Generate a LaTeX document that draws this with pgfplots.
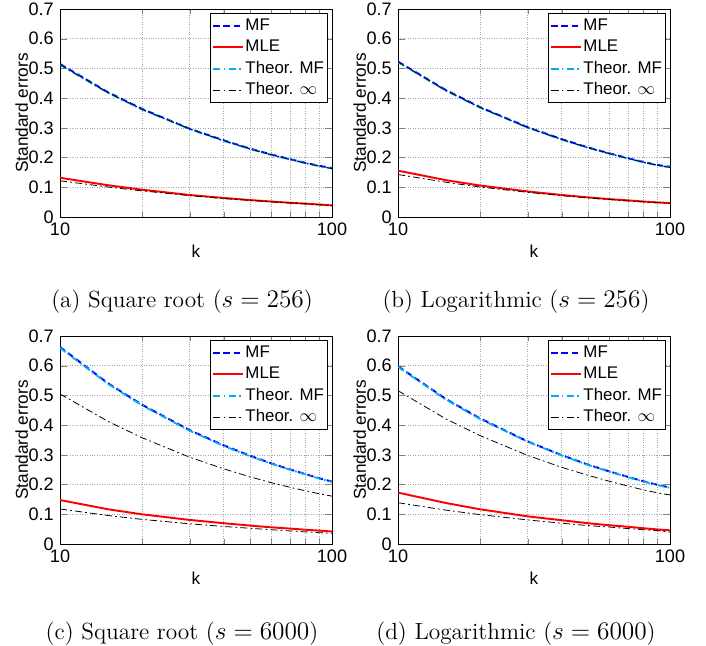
\documentclass[border=0pt]{standalone}
\usepackage{fontspec}
\setsansfont{Liberation Sans}
\usepackage{pgfplots}
\usepackage{pgfplotstable}
\pgfplotsset{compat=1.18}

% k, MF, MLE, Theor. MF, Theor. inf (MF), Theor. inf (MLE)
\pgfplotstableread{
k mf mle tmf tia tib
10 0.515 0.132 0.512 0.513 0.122
15 0.420 0.107 0.418 0.419 0.101
20 0.364 0.092 0.362 0.363 0.088
30 0.297 0.074 0.296 0.296 0.072
40 0.258 0.064 0.256 0.257 0.062
50 0.230 0.057 0.229 0.229 0.056
60 0.210 0.052 0.209 0.209 0.051
70 0.195 0.048 0.194 0.194 0.047
80 0.182 0.045 0.181 0.181 0.044
90 0.172 0.042 0.171 0.171 0.041
100 0.165 0.039 0.163 0.163 0.039
}\tabA
\pgfplotstableread{
k mf mle tmf tia tib
10 0.523 0.156 0.521 0.522 0.143
15 0.427 0.124 0.425 0.426 0.117
20 0.370 0.106 0.368 0.369 0.101
30 0.302 0.086 0.301 0.301 0.083
40 0.262 0.074 0.260 0.261 0.072
50 0.234 0.066 0.233 0.233 0.064
60 0.214 0.060 0.213 0.213 0.059
70 0.198 0.056 0.197 0.197 0.054
80 0.185 0.052 0.184 0.184 0.051
90 0.175 0.049 0.174 0.174 0.048
100 0.169 0.047 0.167 0.167 0.046
}\tabB
\pgfplotstableread{
k mf mle tmf tia tib
10 0.663 0.148 0.660 0.505 0.118
15 0.541 0.117 0.539 0.413 0.096
20 0.469 0.100 0.467 0.358 0.083
30 0.383 0.081 0.381 0.292 0.068
40 0.332 0.070 0.330 0.253 0.059
50 0.297 0.062 0.295 0.226 0.053
60 0.271 0.056 0.270 0.206 0.048
70 0.251 0.052 0.250 0.191 0.044
80 0.235 0.048 0.234 0.179 0.041
90 0.221 0.045 0.220 0.169 0.038
100 0.210 0.042 0.209 0.161 0.036
}\tabC
\pgfplotstableread{
k mf mle tmf tia tib
10 0.598 0.173 0.596 0.516 0.139
15 0.488 0.138 0.486 0.421 0.114
20 0.423 0.117 0.421 0.365 0.099
30 0.345 0.093 0.344 0.298 0.081
40 0.299 0.080 0.298 0.258 0.070
50 0.267 0.070 0.266 0.231 0.062
60 0.244 0.063 0.243 0.211 0.057
70 0.226 0.058 0.225 0.195 0.052
80 0.211 0.053 0.210 0.182 0.048
90 0.199 0.049 0.198 0.172 0.045
100 0.190 0.046 0.189 0.165 0.040
}\tabD

% shared look of the four panels (xmode is set per axis)
\pgfplotsset{
  every axis/.append style={
    scale only axis, width=5.44cm, height=4.16cm,
    xmin=10, xmax=100, ymin=0, ymax=0.7,
    xtick={10,100}, xticklabels={10,100},
    ytick={0,0.1,0.2,0.3,0.4,0.5,0.6,0.7},
    yticklabel style={/pgf/number format/fixed, /pgf/number format/precision=1,
      /pgf/number format/assume math mode=true},
    tick align=inside,
    xmajorgrids, xminorgrids, ymajorgrids,
    grid style={densely dotted, gray!70, line width=0.4pt},
    minor grid style={densely dotted, gray!70, line width=0.4pt},
    ticklabel style={font=\fontsize{10.3}{12}\selectfont\sffamily},
    xlabel style={font=\fontsize{9.8}{11}\selectfont\sffamily, yshift=2pt},
    ylabel style={font=\fontsize{9.8}{11}\selectfont\sffamily, yshift=-6.5pt},
    axis line style={line width=0.5pt},
    legend style={at={(1,1)}, anchor=north east, xshift=-2.3pt, yshift=-2.3pt,
      font=\fontsize{9.6}{10.5}\selectfont\sffamily, draw=black,
      inner xsep=1.5pt, inner ysep=1pt, row sep=0pt, column sep=0pt,
      nodes={inner xsep=0.6pt, inner ysep=1.6pt, text height=7pt, text depth=2pt},
      cells={anchor=west}},
  },
}
\tikzset{
  mfline/.style={blue, line width=1.1pt, dash pattern=on 3.5pt off 2.2pt},
  mleline/.style={red, line width=1.1pt},
  tmfline/.style={cyan, line width=1pt, dash pattern=on 4pt off 1.8pt on 1pt off 1.8pt},
  tinfline/.style={black, line width=0.45pt, dash pattern=on 4pt off 1.8pt on 1pt off 1.8pt},
}

\begin{document}
\begin{tikzpicture}
\useasboundingbox (0,0) rectangle (14.12,-12.9);

\begin{axis}[xmode=log, at={(1.2cm,-4.34cm)}, xlabel={k}, ylabel={Standard errors}]
  \addplot[mfline] table[x=k, y=mf] {\tabA};
  \addplot[mleline] table[x=k, y=mle] {\tabA};
  \addplot[tmfline] table[x=k, y=tmf] {\tabA};
  \addplot[tinfline] table[x=k, y=tia] {\tabA};
  \addplot[tinfline, forget plot] table[x=k, y=tib] {\tabA};
  \legend{MF, MLE, Theor. MF, Theor. $\infty$}
\end{axis}
\begin{axis}[xmode=log, at={(7.96cm,-4.34cm)}, xlabel={k}, ylabel={Standard errors}]
  \addplot[mfline] table[x=k, y=mf] {\tabB};
  \addplot[mleline] table[x=k, y=mle] {\tabB};
  \addplot[tmfline] table[x=k, y=tmf] {\tabB};
  \addplot[tinfline] table[x=k, y=tia] {\tabB};
  \addplot[tinfline, forget plot] table[x=k, y=tib] {\tabB};
  \legend{MF, MLE, Theor. MF, Theor. $\infty$}
\end{axis}
\begin{axis}[xmode=log, at={(1.2cm,-10.88cm)}, xlabel={k}, ylabel={Standard errors}]
  \addplot[mfline] table[x=k, y=mf] {\tabC};
  \addplot[mleline] table[x=k, y=mle] {\tabC};
  \addplot[tmfline] table[x=k, y=tmf] {\tabC};
  \addplot[tinfline] table[x=k, y=tia] {\tabC};
  \addplot[tinfline, forget plot] table[x=k, y=tib] {\tabC};
  \legend{MF, MLE, Theor. MF, Theor. $\infty$}
\end{axis}
\begin{axis}[xmode=log, at={(7.96cm,-10.88cm)}, xlabel={k}, ylabel={Standard errors}]
  \addplot[mfline] table[x=k, y=mf] {\tabD};
  \addplot[mleline] table[x=k, y=mle] {\tabD};
  \addplot[tmfline] table[x=k, y=tmf] {\tabD};
  \addplot[tinfline] table[x=k, y=tia] {\tabD};
  \addplot[tinfline, forget plot] table[x=k, y=tib] {\tabD};
  \legend{MF, MLE, Theor. MF, Theor. $\infty$}
\end{axis}

\node[anchor=base, font=\fontsize{13.3}{16}\selectfont] at (3.64,-6.14) {(a) Square root ($s=256$)};
\node[anchor=base, font=\fontsize{13.3}{16}\selectfont] at (10.32,-6.14) {(b) Logarithmic ($s=256$)};
\node[anchor=base, font=\fontsize{13.3}{16}\selectfont] at (3.64,-12.78) {(c) Square root ($s=6000$)};
\node[anchor=base, font=\fontsize{13.3}{16}\selectfont] at (10.32,-12.78) {(d) Logarithmic ($s=6000$)};
\end{tikzpicture}
\end{document}
